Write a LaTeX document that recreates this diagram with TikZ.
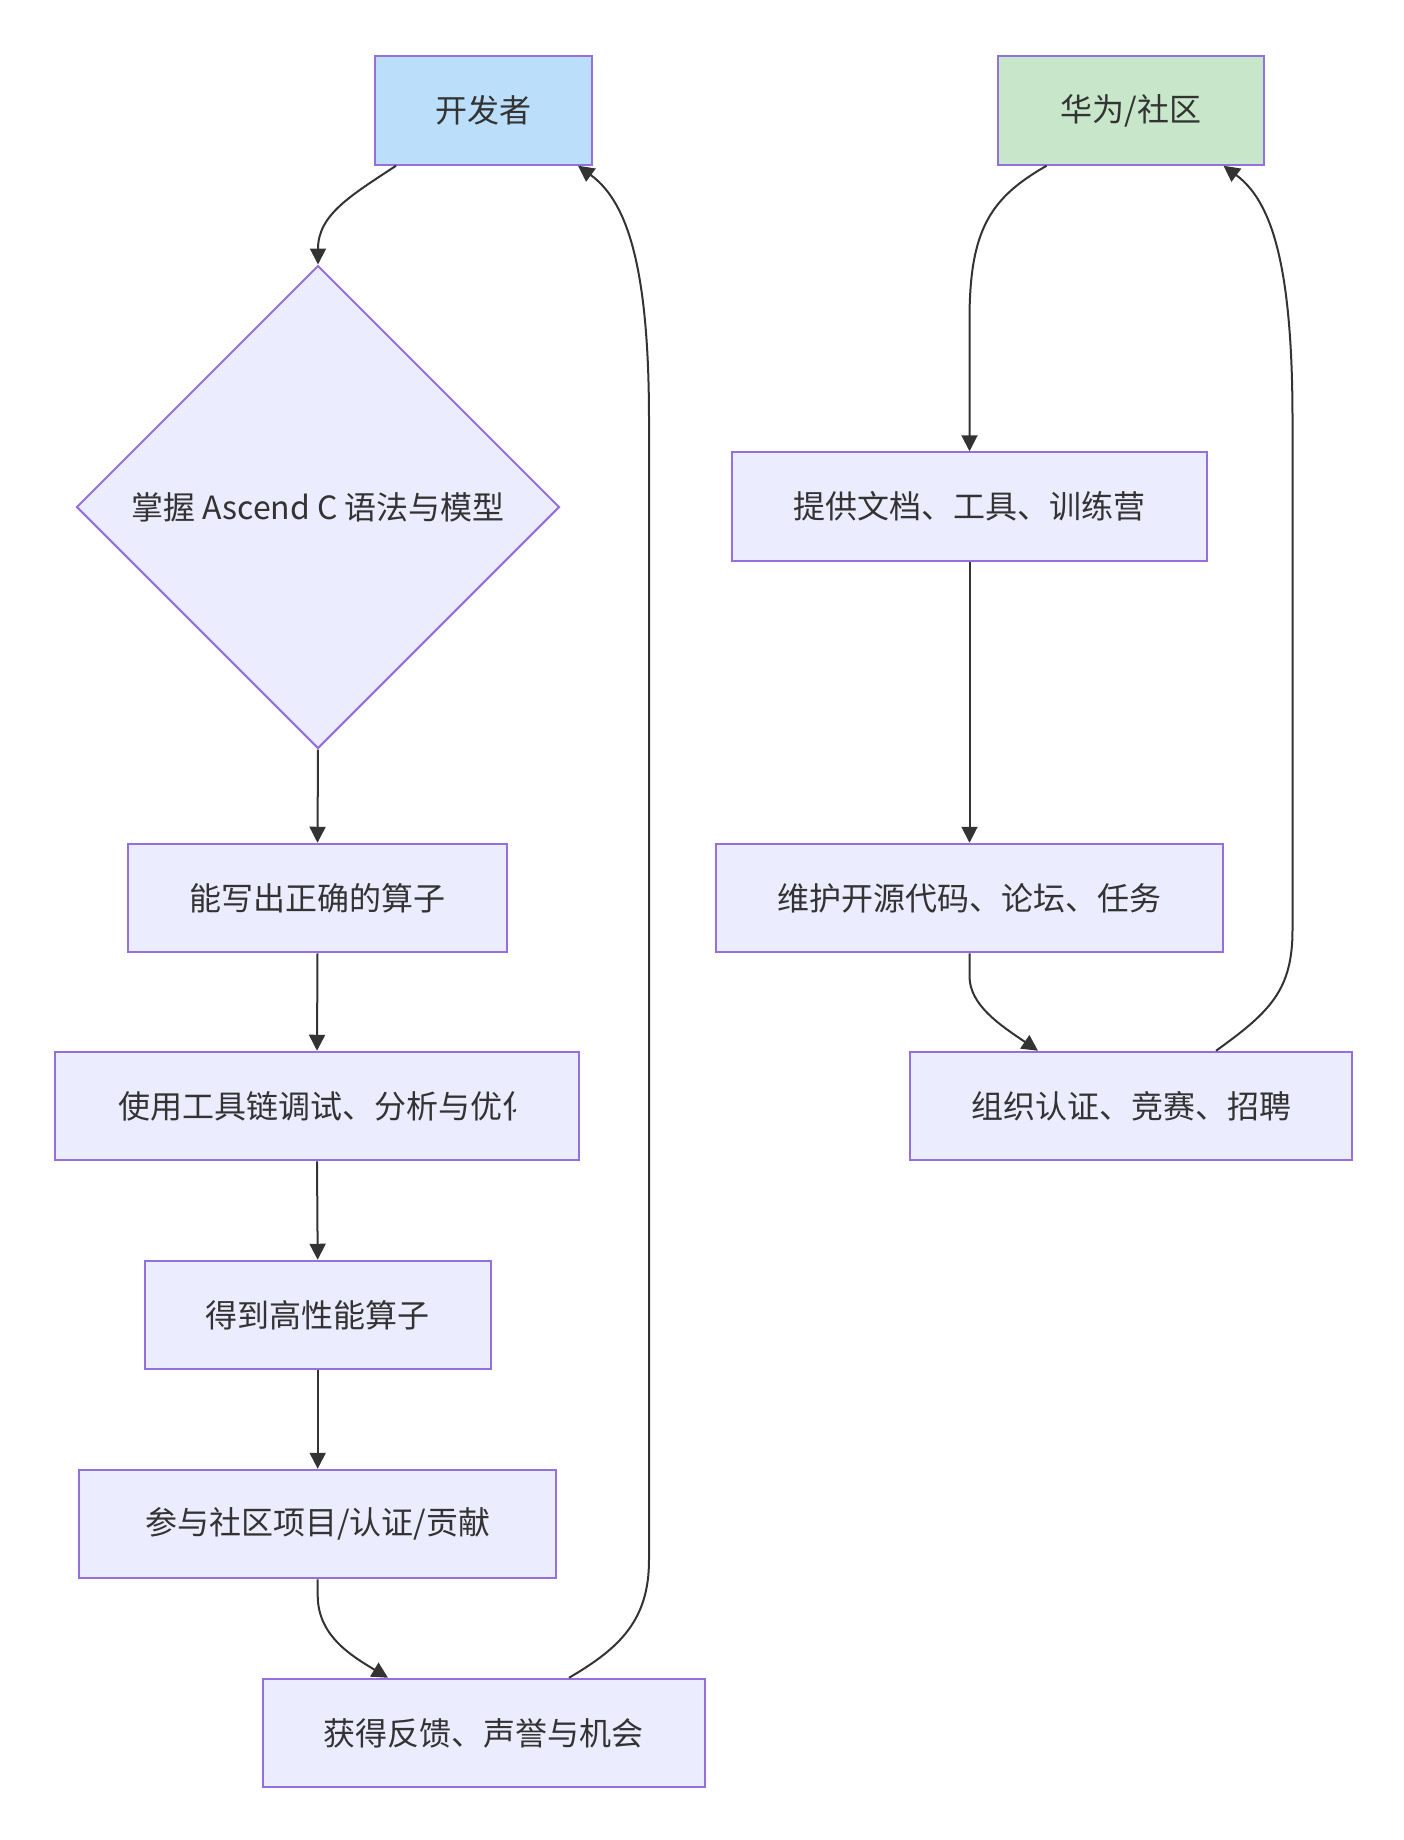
\documentclass[tikz,border=0pt]{standalone}
\usepackage{fontspec}
\setmainfont{Noto Sans CJK SC}
\usetikzlibrary{shapes.geometric,arrows.meta}
\definecolor{boxfill}{HTML}{ECECFF}
\definecolor{boxline}{HTML}{9370DB}
\definecolor{devfill}{HTML}{BBDEFB}
\definecolor{hwfill}{HTML}{C8E6C9}
\definecolor{txt}{HTML}{333333}
\definecolor{edge}{HTML}{333333}
\tikzset{
  every node/.style={font=\fontsize{32}{38}\selectfont, text=txt, inner sep=0pt},
  box/.style={rectangle, draw=boxline, line width=2pt, fill=boxfill, minimum height=108.5pt},
  decision/.style={diamond, aspect=1, draw=boxline, line width=2pt, fill=boxfill, minimum width=483pt, minimum height=483pt},
  link/.style={draw=edge, line width=2pt, -{Triangle[length=16pt,width=16pt]}},
}
\begin{document}
\begin{tikzpicture}[x=1pt,y=-1pt]
\useasboundingbox (0,0) rectangle (1404,1840);
% left column
\node[box, fill=devfill, minimum width=217pt] (dev) at (483.5,110.5) {开发者};
\node[decision] (dia) at (318,507) {掌握 Ascend C 语法与模型};
\node[box, minimum width=379pt] (nw) at (317.5,898) {能写出正确的算子};
\node[box, minimum width=524pt] (sy) at (317,1106) {};
\begin{scope}
  \clip (118,1052) rectangle (515,1160);
  \node[anchor=west] (syt) at (118,1106) {使用工具链调试、分析与优化};
\end{scope}
\node[box, minimum width=346pt] (dd) at (317.7,1315) {得到高性能算子};
\node[box, minimum width=476.5pt] (cy) at (317.7,1524) {参与社区项目/认证/贡献};
\node[box, minimum width=442pt] (hd) at (483.6,1733) {获得反馈、声誉与机会};
% right column
\node[box, fill=hwfill, minimum width=266pt] (hw) at (1131,110.5) {华为/社区};
\node[box, minimum width=475pt] (tg) at (969.5,506.5) {提供文档、工具、训练营};
\node[box, minimum width=507pt] (wh) at (969.5,898) {维护开源代码、论坛、任务};
\node[box, minimum width=442.5pt] (zz) at (1131,1106) {组织认证、竞赛、招聘};
% connectors left
\draw[link] ([xshift=-87.5pt]dev.south) .. controls (350,196) and (318,215) .. (dia.north);
\draw[link] (dia.south) -- (nw.north);
\draw[link] (nw.south) -- (sy.north);
\draw[link] (sy.south) -- (dd.north);
\draw[link] (dd.south) -- (cy.north);
\draw[link] (cy.south) -- ++(0,16) .. controls (317.7,1635) and (350,1655) .. ([xshift=-95.6pt]hd.north);
\draw[link] ([xshift=85.4pt]hd.north) .. controls (620,1648) and (649,1620) .. (649,1560) -- (649,420) .. controls (649,260) and (625,200) .. ([xshift=94.5pt]dev.south);
% connectors right
\draw[link] ([xshift=-84.4pt]hw.south) .. controls (990,198) and (969.5,230) .. (969.5,320) -- (tg.north);
\draw[link] (tg.south) -- (wh.north);
\draw[link] (wh.south) -- ++(0,23) .. controls (969.5,1005) and (1000,1025) .. ([xshift=-93pt]zz.north);
\draw[link] ([xshift=85pt]zz.north) .. controls (1270,1012) and (1292.5,990) .. (1292.5,930) -- (1292.5,420) .. controls (1292.5,260) and (1270,200) .. ([xshift=92.5pt]hw.south);
\end{tikzpicture}
\end{document}
